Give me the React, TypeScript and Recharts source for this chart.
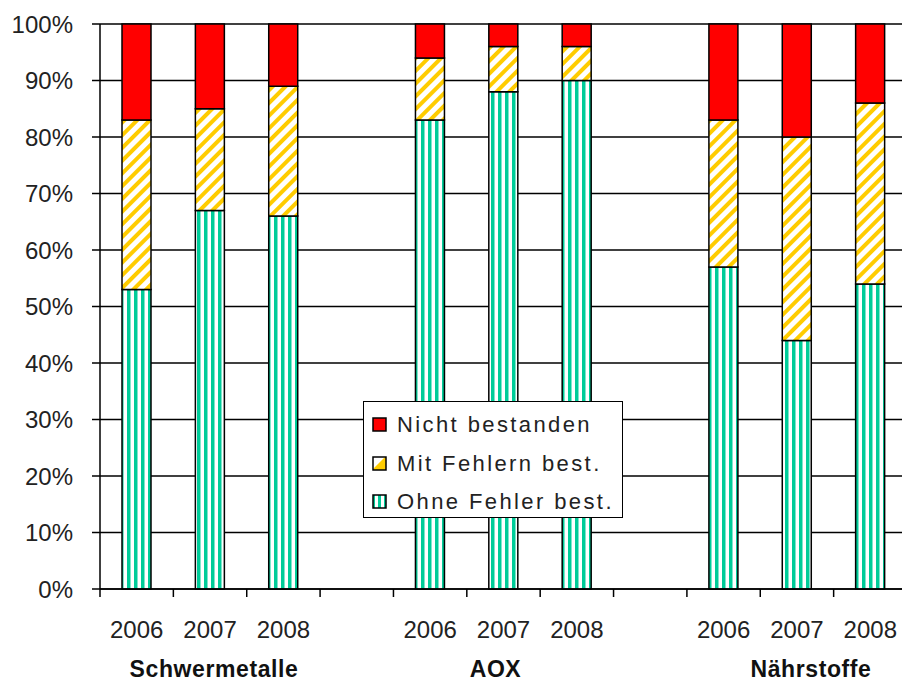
import { BarChart, Bar, XAxis, YAxis, CartesianGrid, Legend } from 'recharts';

const years = ['2006', '2007', '2008', '', '2006', '2007', '2008', '', '2006', '2007', '2008'];
const groupLabels = ['', 'Schwermetalle', '', '', '', 'AOX', '', '', '', 'Nährstoffe', ''];
const ohneFehler = [53, 67, 66, null, 83, 88, 90, null, 57, 44, 54];
const mitFehlern = [30, 18, 23, null, 11, 8, 6, null, 26, 36, 32];
const nichtBestanden = [17, 15, 11, null, 6, 4, 4, null, 17, 20, 14];
const yTicks = [0, 10, 20, 30, 40, 50, 60, 70, 80, 90, 100];

const data = years.map((year, i) => ({
  year,
  group: groupLabels[i],
  ohne: ohneFehler[i],
  mit: mitFehlern[i],
  nicht: nichtBestanden[i],
}));

const WIDTH = 920;
const HEIGHT = 684;
const MARGIN = { top: 24, right: 13, bottom: 0, left: 0 };
const Y_AXIS_W = 100;
const BAND = (WIDTH - MARGIN.left - MARGIN.right - Y_AXIS_W) / years.length;
const FONT = '"Liberation Sans", Arial, sans-serif';
const groupShift: Record<string, number> = { Schwermetalle: 4, AOX: -8, 'Nährstoffe': 14 };

function YearTick(props: any) {
  const { x, y, payload, index } = props;
  const half = BAND / 2;
  const label = data[index]?.group;
  return (
    <g>
      <line x1={x - half} x2={x - half} y1={y} y2={y + 8} stroke="#000" strokeWidth={1.5} />
      {index === years.length - 1 && (
        <line x1={x + half} x2={x + half} y1={y} y2={y + 8} stroke="#000" strokeWidth={1.5} />
      )}
      <text x={x} y={y + 49} textAnchor="middle" fontSize={24} fill="#222" fontFamily={FONT}>
        {payload.value}
      </text>
      {label && (
        <text
          x={x + (groupShift[label] ?? 0)}
          y={y + 88}
          textAnchor="middle"
          fontSize={23}
          fontWeight="bold"
          letterSpacing={0.6}
          fill="#111"
          fontFamily={FONT}
        >
          {label}
        </text>
      )}
    </g>
  );
}

const legendItems = [
  { label: 'Nicht bestanden', fill: '#FF0000' },
  { label: 'Mit Fehlern best.', fill: 'url(#lgHatch)' },
  { label: 'Ohne Fehler best.', fill: 'url(#lgStripe)' },
];

function LegendBox() {
  return (
    <div
      style={{
        width: 260,
        height: 117,
        background: '#fff',
        border: '1.5px solid #000',
        boxSizing: 'border-box',
        fontFamily: FONT,
        fontSize: 22,
        letterSpacing: 2.4,
        color: '#222',
        paddingTop: 4,
      }}
    >
      <svg width={0} height={0} style={{ position: 'absolute' }}>
        <defs>
          <pattern id="lgHatch" width="14" height="14" patternUnits="userSpaceOnUse">
            <rect width="14" height="14" fill="#fff" />
            <path d="M0 14 L14 14 L14 0 Z" fill="#FFCC00" />
          </pattern>
          <pattern id="lgStripe" width="6" height="6" patternUnits="userSpaceOnUse">
            <rect width="6" height="6" fill="#fff" />
            <rect width="3" height="6" fill="#00CC99" />
          </pattern>
        </defs>
      </svg>
      {legendItems.map((item) => (
        <div key={item.label} style={{ display: 'flex', alignItems: 'center', height: 38.5, paddingLeft: 8 }}>
          <svg width={16} height={16} style={{ marginRight: 9 }}>
            <rect x={1} y={1} width={13} height={13} fill={item.fill} stroke="#000" strokeWidth={1.5} />
          </svg>
          <span>{item.label}</span>
        </div>
      ))}
    </div>
  );
}

export default function App() {
  return (
    <div style={{ position: 'absolute', left: 0, top: 0, width: 902, height: 684, overflow: 'hidden', background: '#fff' }}>
      <BarChart width={WIDTH} height={HEIGHT} data={data} margin={MARGIN} barSize={29}>
        <defs>
          <pattern id="hatch" width="9" height="9" patternUnits="userSpaceOnUse" patternTransform="rotate(45)">
            <rect width="9" height="9" fill="#fff" />
            <rect width="4" height="9" fill="#FFCC00" />
          </pattern>
          <pattern id="stripe" width="7" height="7" patternUnits="userSpaceOnUse">
            <rect width="7" height="7" fill="#fff" />
            <rect x="1" width="3.5" height="7" fill="#00CC99" />
          </pattern>
        </defs>
        <CartesianGrid vertical={false} stroke="#000" strokeWidth={1.5} />
        <XAxis
          dataKey="year"
          interval={0}
          height={95}
          tickLine={false}
          tickSize={0}
          tickMargin={0}
          tick={<YearTick />}
          axisLine={{ stroke: '#000', strokeWidth: 1.5 }}
        />
        <YAxis
          width={Y_AXIS_W}
          domain={[0, 100]}
          ticks={yTicks}
          interval={0}
          tickFormatter={(v) => `${v}%`}
          tickSize={8}
          tickMargin={19}
          tick={{ fontSize: 24, fill: '#222', fontFamily: FONT }}
          tickLine={{ stroke: '#000', strokeWidth: 1.5 }}
          axisLine={{ stroke: '#000', strokeWidth: 1.5 }}
        />
        <Legend
          layout="vertical"
          align="center"
          verticalAlign="middle"
          content={<LegendBox />}
          wrapperStyle={{ left: 363, top: 401, width: 260 }}
        />
        <Bar dataKey="ohne" stackId="a" fill="url(#stripe)" stroke="#000" strokeWidth={1.5} isAnimationActive={false} />
        <Bar dataKey="mit" stackId="a" fill="url(#hatch)" stroke="#000" strokeWidth={1.5} isAnimationActive={false} />
        <Bar dataKey="nicht" stackId="a" fill="#FF0000" stroke="#000" strokeWidth={1.5} isAnimationActive={false} />
      </BarChart>
    </div>
  );
}
